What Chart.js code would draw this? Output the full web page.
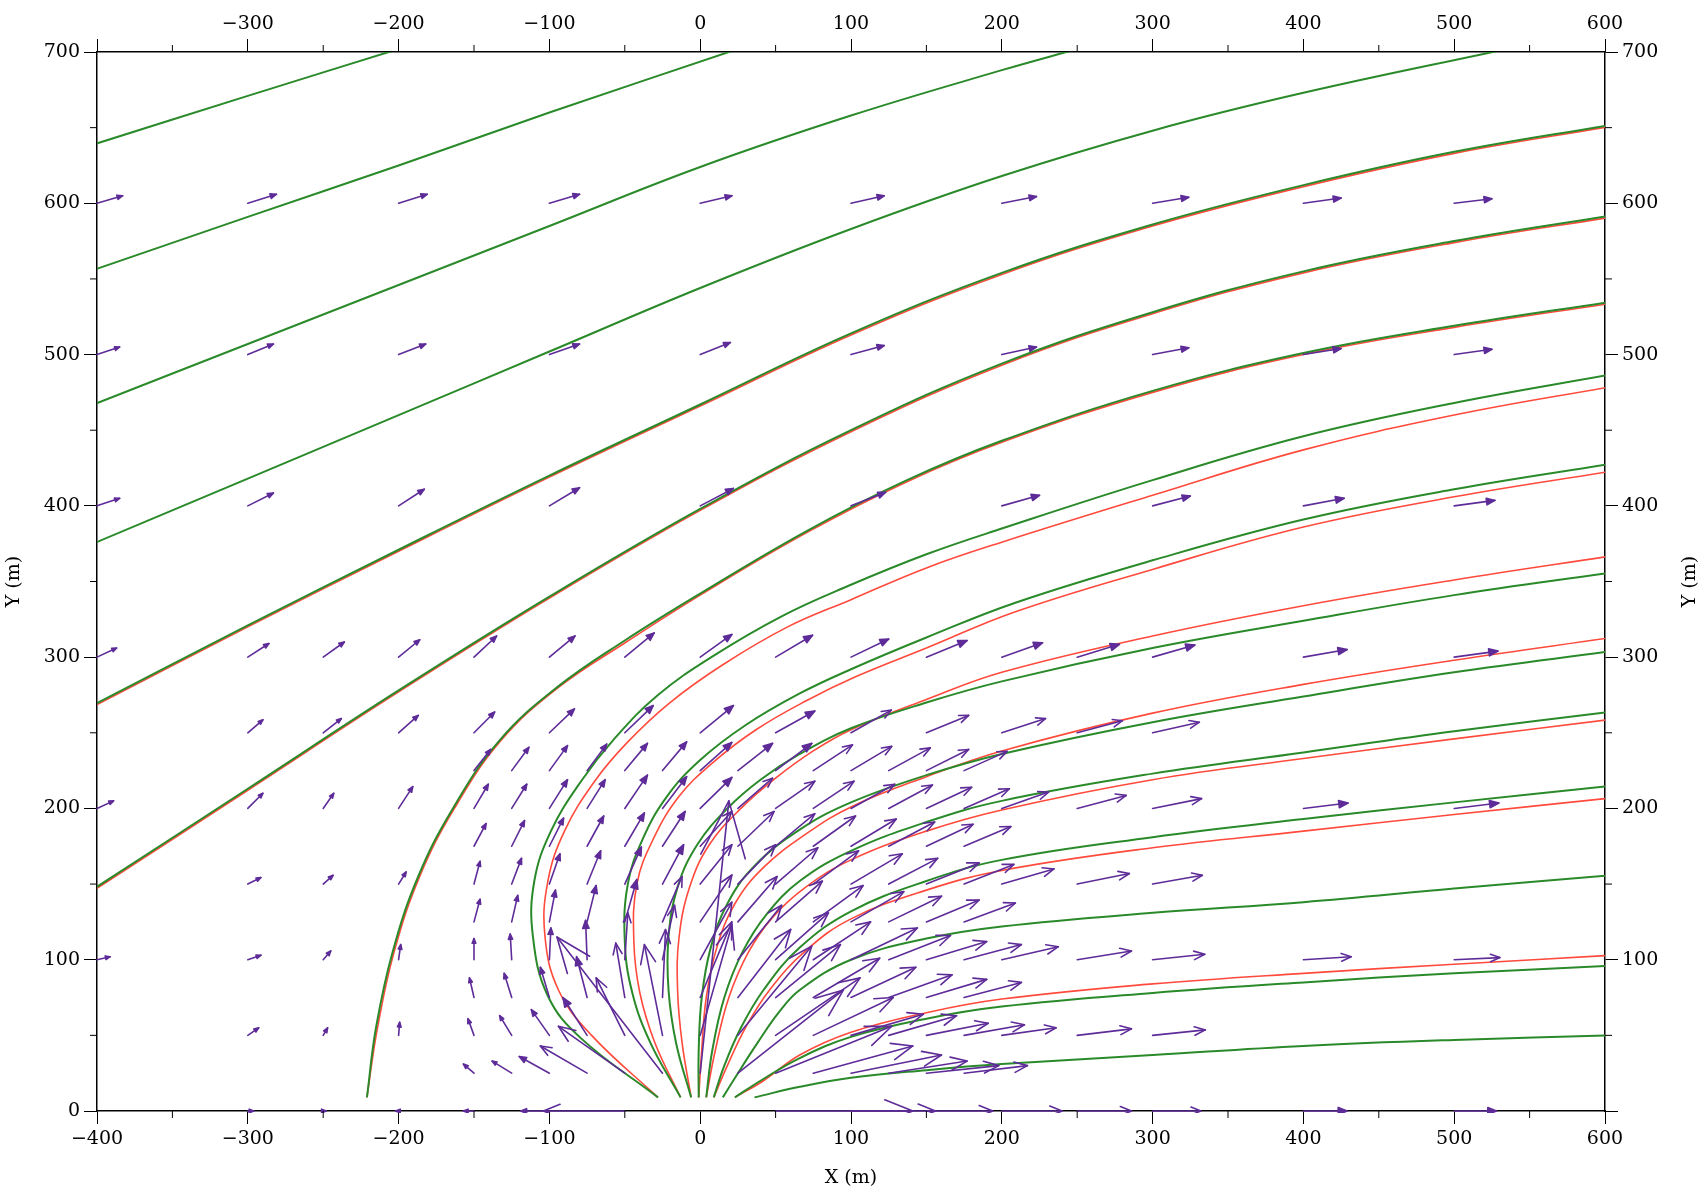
<!DOCTYPE html>
<html>
<head>
<meta charset="utf-8">
<script src="https://cdn.jsdelivr.net/npm/chart.js@4.4.1/dist/chart.umd.min.js"></script>
<style>
html, body { margin: 0; background: #fff; }
#wrap { width: 1706px; height: 1196px; }
</style>
</head>
<body>
<div id="wrap"><canvas id="myChart"></canvas></div>
<script>
// axis ticks
const xTicks = [-400, -300, -200, -100, 0, 100, 200, 300, 400, 500, 600];
const yTicks = [0, 100, 200, 300, 400, 500, 600, 700];
const xMinor = [-350, -250, -150, -50, 50, 150, 250, 350, 450, 550];
const yMinor = [50, 150, 250, 350, 450, 550, 650];

// streamlines, green model (x, y in m)
const g1 = [[-405,638],[-300,671],[-200,702]];
const g2 = [[-405,555],[-300,591],[-200,625],[-100,660],[25,702]];
const g3 = [[-405,466],[-300,507],[-200,546],[-100,585],[0,624],[100,658],[200,688],[250,702]];
const g4 = [[-405,374],[-300,418],[-200,460],[-100,502],[0,544],[100,583],[200,618],[300,648],[400,673],[535,702]];
const g5 = [[-405,267],[-300,321],[-200,371],[-100,420],[0,467],[100,514],[200,554],[300,586],[400,612],[500,634],[605,652]];
const g6 = [[-405,145],[-300,213],[-200,278],[-100,340],[0,398],[100,450],[200,494],[300,528],[400,555],[500,575],[605,592]];
const g7 = [[-221,9],[-215,55],[-204,105],[-187,155],[-164,200],[-133,245],[-95,280],[-50,311],[0,342],[70,383],[135,416],[200,443],[300,476],[400,501],[500,519],[605,535]];
const p1g = [[-28,9],[-79,48],[-101,76],[-111,116],[-110,152],[-99,185],[-79,218],[-57,246],[-28,275],[9,301],[54,327],[98,347],[150,368],[200,385],[300,417],[400,446],[500,468],[605,487]];
const p2g = [[-13,9],[-33,45],[-45,78],[-50,112],[-48,150],[-38,180],[-22,208],[0,232],[30,255],[66,276],[100,292],[150,313],[209,336],[300,364],[400,391],[500,411],[605,428]];
const p3g = [[-6,9],[-16,45],[-21,80],[-21,115],[-15,148],[-2,176],[18,200],[40,219],[66,236],[100,253],[150,270],[200,284],[300,306],[400,324],[500,341],[605,356]];
const p4g = [[-1,9],[-1,40],[1,75],[7,108],[18,137],[36,162],[66,186],[100,204],[150,222],[200,236],[300,257],[400,274],[500,290],[605,304]];
const p5g = [[4,9],[8,40],[16,75],[28,105],[44,130],[66,152],[100,172],[150,191],[200,205],[300,223],[400,237],[500,251],[605,264]];
const p6g = [[9,9],[16,30],[27,55],[42,80],[66,108],[100,132],[150,152],[200,166],[300,181],[400,193],[500,204],[605,215]];
const p7g = [[15,9],[25,25],[38,45],[52,65],[66,80],[100,100],[150,114],[200,122],[300,131],[400,138],[500,147],[605,156]];
const p8g = [[23,9],[40,20],[66,35],[100,49],[150,61],[200,69],[300,78],[400,85],[500,91],[605,96]];
const p9g = [[36,9],[66,16],[100,22],[150,27],[200,31],[300,37],[400,43],[500,47],[605,50]];

// streamlines, red model
const g5r = [[-405,266],[-300,320],[-200,370],[-100,419],[0,466],[100,513],[200,553],[300,585],[400,611],[500,633],[605,651]];
const g6r = [[-405,144],[-300,212],[-200,277],[-100,339],[0,397],[100,449],[200,493],[300,527],[400,554],[500,574],[605,591]];
const g7r = [[-221,9],[-214,55],[-203,105],[-186,155],[-163,200],[-132,245],[-94,280],[-49,310],[0,341],[70,382],[135,415],[200,442],[300,475],[400,500],[500,518],[605,534]];
const p1r = [[-28,9],[-72,50],[-94,80],[-103,116],[-101,152],[-90,185],[-70,218],[-48,244],[-20,270],[15,295],[58,320],[100,338],[150,359],[200,376],[300,407],[400,437],[500,460],[605,479]];
const p2r = [[-13,9],[-30,45],[-40,78],[-44,112],[-42,150],[-31,180],[-14,208],[8,230],[37,252],[70,271],[103,287],[150,306],[209,330],[300,358],[400,386],[500,406],[605,423]];
const p3r = [[-6,9],[-12,45],[-15,80],[-14,115],[-7,148],[6,176],[27,200],[50,220],[75,238],[100,252],[150,272],[200,290],[300,314],[400,334],[500,351],[605,367]];
const p4r = [[-1,9],[1,40],[4,75],[11,108],[23,137],[42,161],[70,183],[100,201],[150,221],[200,238],[300,263],[400,282],[500,298],[605,313]];
const p5r = [[4,9],[10,40],[19,75],[32,105],[48,128],[70,148],[100,166],[150,185],[200,199],[300,219],[400,233],[500,246],[605,259]];
const p6r = [[9,9],[18,30],[30,55],[46,80],[70,106],[100,127],[150,146],[200,159],[300,174],[400,185],[500,196],[605,207]];
const p8r = [[23,9],[42,20],[66,37],[100,52],[150,65],[200,74],[300,84],[400,91],[500,97],[605,103]];

// wind vectors (dx, dy in m) - coarse grid, upper rows
const xCoarse = [-400, -300, -200, -100, 0, 100, 200, 300, 400, 500];
const up600 = [[17,5],[19,6],[19,6],[20,6],[21,5],[22,5],[23,4.5],[24,4],[25,3.5],[25,3]];
const up500 = [[15,5],[17,7],[18,7],[20,7],[20,8],[22,6],[23,5],[24,4.5],[25,4],[25,3.5]];
const up400 = [[15,5],[17,8.5],[17,11],[20,12],[22,11.5],[23,9],[25,7],[25,6.5],[27,5],[27,3.6]];

// 50 m grid rows
const x50 = [-300, -250, -200, -150, -100, -50, 0, 50, 100, 150, 200, 250, 300];
const v300 = [[14,9],[14,10],[14,11.5],[15,14],[17,14],[19.5,16],[21,15],[24.5,14.5],[25,12],[27,11],[27,9.5],[28,8.5],[28,8]];
const v250 = [[10,8.6],[12,9.4],[13,11.5],[13.7,13.7],[16.6,15.8],[18.8,18],[22,18],[26,14.4],[26.7,15],[28,11.5],[29,9.4],[30,8],[31,7]];
const v0 = [[4,0],[2,0],[-2,0],[-7,0],[-19,0],[-54,0],null,[91,0],[56,0],[44,0],[40,0],[36,0],[32,0]];

// remaining single vectors [x, y, dx, dy]
const sideArrows = [
  [-400,300,13,6],[400,300,29,5],[500,300,29,4],
  [-400,200,11,5],[-300,200,10,10],[-250,200,7,10],[-200,200,9.4,14.4],[200,200,31,10.8],[250,200,32.5,8.6],[300,200,32.5,6.5],[400,200,29.6,3.6],[500,200,29.6,3.6],
  [-300,150,8.7,4.3],[-250,150,6.5,5.8],[-200,150,5,8],[200,150,34.6,10],[250,150,34.6,7],[300,150,33,5.8],
  [-400,100,8.7,2],[-300,100,8.7,3],[-250,100,5,5.8],[-200,100,1.4,10],[200,100,37.5,8.6],[250,100,36,5.8],[300,100,34.6,3.6],[400,100,31.7,2],[500,100,30.3,1.4],
  [-300,50,7.2,5],[-250,50,2.9,5],[-200,50,0.7,8.6],[200,50,36,5],[250,50,36,4.3],[300,50,35,3.6],
  [400,0,29,0],[500,0,28,0]
];

// 25 m grid near the source
const nearX = [-150, -125, -100, -75, -50, -25, 0, 25, 50, 75, 100, 125, 150, 175];
const nearY = [25, 50, 75, 100, 125, 150, 175, 200, 225];
const near25 = [[-7,6],[-13,8],[-20,11],[-31,18],[-44,31],[-70,90],[19,180],[70,55],[77,31],[66,18],[60,12],[52,8],[48,5],[42,5]];
const near50 = [[-4,11],[-8,13],[-12,17],[-16,25],[-19,38],[-12,60],[21,73],[49,59],[56,38],[53,25],[48,14],[45,13],[41,8],[40,7]];
const near75 = [[-3,13],[-5,16],[-6,20],[-7,27],[-6,36],[2,45],[21,50],[35,45],[43,35],[44,26],[43,20],[42,15],[40,12],[38,10]];
const near100 = [[0,14],[-1,17],[1,21],[-1,26],[2,31],[8,36],[21,38],[29,36],[35,31],[38,25],[44,21],[41,16],[40,12],[38,10]];
const near125 = [[4,15],[4,17.5],[4,21],[6,24],[8,28],[13,30],[21,31],[26,30],[31,27],[33,24],[35,20],[35,17],[35,14.5],[34,12.5]];
const near150 = [[4,15],[6.5,17],[7,20],[9,22],[11,24.5],[14,26],[21,26],[25,26],[28,24],[30,22],[34,20],[32.5,17],[35,14],[33,13]];
const near175 = [[8,15],[8.5,17],[9.4,18.6],[11,20],[13,22],[15,23],[21,23],[24,23],[26,21.5],[28,20],[30,18],[30.5,16],[31,14.5],[31,13]];
const near200 = [[9.5,16],[10,16],[12,19],[12,19],[15,22],[16,21],[21,20.5],[23,20],[26,18],[27,18],[29,16],[29,15.5],[30,14],[30,13]];
const near225 = [[11,14],[11.4,15.4],[12,16.5],[13,17.5],[15,18],[16,19],[21,18.6],[23,18],[24,18],[26,17],[27,16],[27.6,15],[28,14],[28.5,12.7]];

// build arrow list
const allArrows = [];
[[600, up600], [500, up500], [400, up400]].forEach(([yy, row]) => {
  row.forEach((v, i) => allArrows.push([xCoarse[i], yy, v[0], v[1]]));
});
[[300, v300], [250, v250], [0, v0]].forEach(([yy, row]) => {
  row.forEach((v, i) => { if (v) allArrows.push([x50[i], yy, v[0], v[1]]); });
});
sideArrows.forEach(a => allArrows.push(a));
[near25, near50, near75, near100, near125, near150, near175, near200, near225].forEach((row, j) => {
  row.forEach((v, i) => allArrows.push([nearX[i], nearY[j], v[0], v[1]]));
});

const greenLines = [g1, g2, g3, g4, g5, g6, g7, p1g, p2g, p3g, p4g, p5g, p6g, p7g, p8g, p9g];
const redLines = [g5r, g6r, g7r, p1r, p2r, p3r, p4r, p5r, p6r, p8r];

const FONT = 'DejaVu Serif';
const fmt = v => (v < 0 ? '\u2212' + Math.abs(v) : String(v));

const datasets = [];
greenLines.forEach(l => datasets.push({
  data: l.map(([x, y]) => ({x, y})),
  showLine: true, borderColor: '#2a8a2a', borderWidth: 2,
  pointRadius: 0, tension: 0.4, order: 0
}));
redLines.forEach(l => datasets.push({
  data: l.map(([x, y]) => ({x, y})),
  showLine: true, borderColor: '#ff4a3c', borderWidth: 1.6,
  pointRadius: 0, tension: 0.4, order: 1
}));

const arrowPlugin = {
  id: 'arrows',
  afterDatasetsDraw(chart) {
    const {ctx, chartArea, scales: {x, y}} = chart;
    ctx.save();
    ctx.beginPath();
    ctx.rect(chartArea.left - 1, chartArea.top, chartArea.width + 2, chartArea.height + 2);
    ctx.clip();
    ctx.strokeStyle = '#5e2c98';
    ctx.fillStyle = '#5e2c98';
    ctx.lineWidth = 1.6;
    ctx.lineJoin = 'round';
    ctx.lineCap = 'round';
    allArrows.forEach(([ax, ay, dx, dy]) => {
      const x0 = x.getPixelForValue(ax), y0 = y.getPixelForValue(ay);
      const x1 = x.getPixelForValue(ax + dx), y1 = y.getPixelForValue(ay + dy);
      const len = Math.hypot(x1 - x0, y1 - y0);
      if (len < 1) return;
      const ang = Math.atan2(y1 - y0, x1 - x0);
      const h = Math.max(5, len * 0.22);
      ctx.beginPath();
      ctx.moveTo(x0, y0);
      ctx.lineTo(x1, y1);
      ctx.stroke();
      ctx.beginPath();
      ctx.moveTo(x1 - h * Math.cos(ang - 0.38), y1 - h * Math.sin(ang - 0.38));
      ctx.lineTo(x1, y1);
      ctx.lineTo(x1 - h * Math.cos(ang + 0.38), y1 - h * Math.sin(ang + 0.38));
      if (h < 10) { ctx.closePath(); ctx.fill(); }
      ctx.stroke();
    });
    ctx.restore();
  },
  afterDraw(chart) {
    const {ctx, chartArea: a, scales: {x, y}} = chart;
    ctx.save();
    ctx.strokeStyle = '#000';
    ctx.lineWidth = 1;
    ctx.beginPath();
    xMinor.forEach(v => {
      const px = x.getPixelForValue(v);
      ctx.moveTo(px, a.bottom); ctx.lineTo(px, a.bottom + 7);
      ctx.moveTo(px, a.top); ctx.lineTo(px, a.top - 7);
    });
    yMinor.forEach(v => {
      const py = y.getPixelForValue(v);
      ctx.moveTo(a.left, py); ctx.lineTo(a.left - 7, py);
      ctx.moveTo(a.right, py); ctx.lineTo(a.right + 7, py);
    });
    ctx.stroke();
    // right axis title, reads bottom to top like the left one
    ctx.fillStyle = '#000';
    ctx.font = '19px "' + FONT + '"';
    ctx.textAlign = 'center';
    ctx.textBaseline = 'middle';
    ctx.translate(1690, (a.top + a.bottom) / 2);
    ctx.rotate(-Math.PI / 2);
    ctx.fillText('Y (m)', 0, 0);
    ctx.restore();
  }
};

function axis(pos, isX, size, extra) {
  const ticksArr = isX ? xTicks : yTicks;
  return Object.assign({
    type: 'linear',
    position: pos,
    min: isX ? -400 : 0,
    max: isX ? 600 : 700,
    afterBuildTicks: s => { s.ticks = ticksArr.map(v => ({value: v})); },
    afterFit: s => { if (isX) s.height = size; else s.width = size; },
    ticks: {
      color: '#000', font: {family: FONT, size: 19},
      padding: 4, maxRotation: 0, autoSkip: false,
      callback: fmt
    },
    grid: {
      display: true, drawOnChartArea: false, drawTicks: true,
      tickLength: 13, tickColor: '#000', tickWidth: 1
    },
    border: {display: true, color: '#000', width: 1.5}
  }, extra || {});
}

new Chart(document.getElementById('myChart'), {
  type: 'scatter',
  data: {datasets},
  options: {
    responsive: true,
    maintainAspectRatio: false,
    animation: false,
    events: [],
    layout: {padding: 0},
    plugins: {legend: {display: false}, tooltip: {enabled: false}},
    scales: {
      x: axis('bottom', true, 85, {
        title: {display: true, text: 'X (m)', color: '#000', font: {family: FONT, size: 19}, padding: {top: 0, bottom: 7}}
      }),
      xTop: axis('top', true, 52, {}),
      y: axis('left', false, 97, {
        title: {display: true, text: 'Y (m)', color: '#000', font: {family: FONT, size: 19}, padding: {top: 3, bottom: 0}}
      }),
      yRight: axis('right', false, 101, {})
    }
  },
  plugins: [arrowPlugin]
});

// top axis has no -400 label, right axis has no 0 label
const ch = Chart.getChart('myChart');
ch.options.scales.xTop.ticks.callback = v => (v === -400 ? '' : fmt(v));
ch.options.scales.yRight.ticks.callback = v => (v === 0 ? '' : fmt(v));
ch.update();
</script>
</body>
</html>
